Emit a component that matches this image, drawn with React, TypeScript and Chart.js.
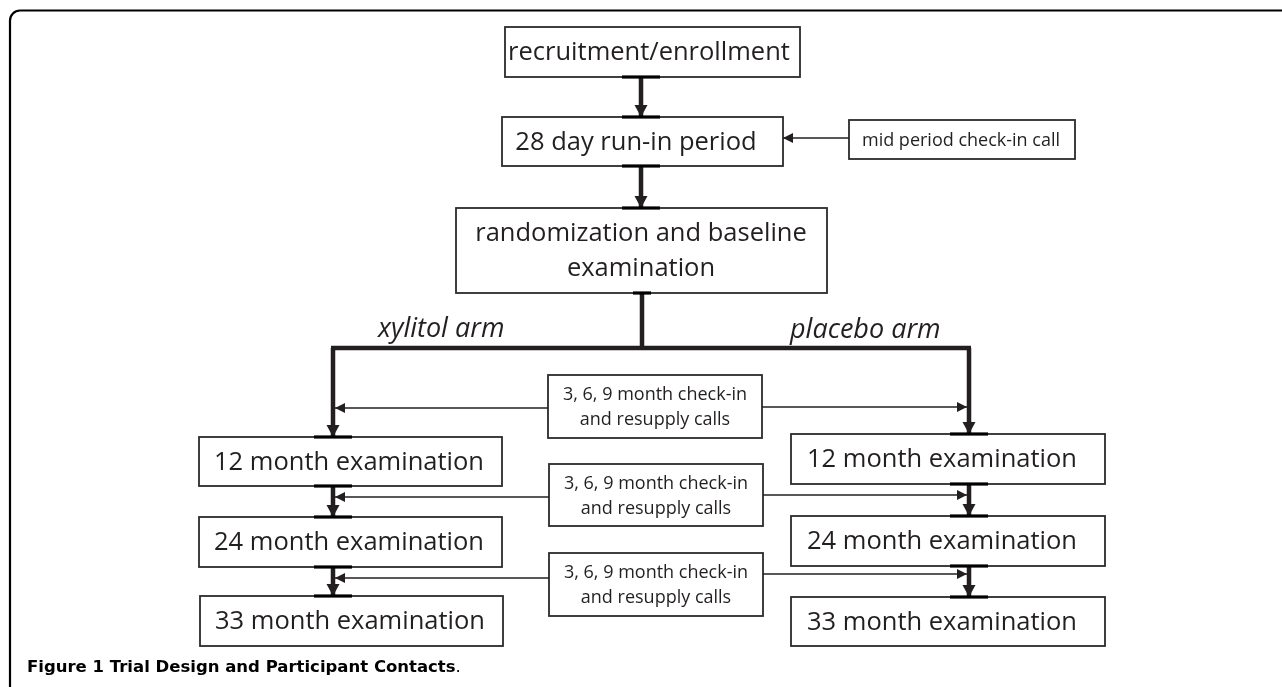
import React, { useEffect, useRef } from "react";
import { Chart, registerables } from "chart.js";

Chart.register(...registerables);

const W = 1282;
const H = 687;

// ---- Flowchart nodes (diagram coordinates on the chart's x/y scales) ----
const boxTexts: string[][] = [
  ["recruitment/enrollment"],
  ["28 day run-in period"],
  ["mid period check-in call"],
  ["randomization and baseline", "examination"],
  ["3, 6, 9 month check-in", "and resupply calls"],
  ["3, 6, 9 month check-in", "and resupply calls"],
  ["3, 6, 9 month check-in", "and resupply calls"],
  ["12 month examination"],
  ["24 month examination"],
  ["33 month examination"],
  ["12 month examination"],
  ["24 month examination"],
  ["33 month examination"],
];
const boxKind: string[] = ["main", "main", "note", "main", "note", "note", "note", "main", "main", "main", "main", "main", "main"];
const boxLeft: number[] = [505, 502, 849, 456, 548, 549, 549, 199, 199, 200, 791, 791, 791];
const boxTop: number[] = [27, 117, 120, 208, 375, 464, 553, 437, 517, 596, 434, 516, 597];
const boxRight: number[] = [800, 783, 1075, 827, 762, 763, 763, 502, 502, 503, 1105, 1105, 1105];
const boxBottom: number[] = [77, 166, 159, 293, 438, 526, 616, 486, 567, 646, 484, 566, 646];
const boxTextX: number[] = [649, 636, 961, 641, 655, 656, 656, 349, 349, 350, 942, 942, 942];

// ---- Connectors: [x1, y1, x2, y2, arrowhead at end (1) or not (0)] ----
const thickLinks: number[][] = [
  [641, 77, 641, 117, 1],
  [641, 166, 641, 208, 1],
  [642, 293, 642, 348, 0],
  [331, 348, 971, 348, 0],
  [333, 348, 333, 437, 1],
  [969, 348, 969, 434, 1],
  [333, 486, 333, 517, 1],
  [969, 484, 969, 516, 1],
  [333, 567, 333, 596, 1],
  [969, 566, 969, 597, 1],
];
const thinLinks: number[][] = [
  [849, 138, 783, 138, 1],
  [548, 408, 335, 408, 1],
  [762, 407, 967, 407, 1],
  [549, 497, 335, 497, 1],
  [763, 495, 967, 495, 1],
  [549, 578, 335, 578, 1],
  [763, 574, 967, 574, 1],
];
// Junction bars on box edges: [centerX, y, width]
const junctionBars: number[][] = [
  [641, 77, 38], [641, 117, 38], [641, 166, 38], [641, 208, 38], [642, 293, 18],
  [333, 437, 38], [333, 486, 38], [333, 517, 38], [333, 567, 38], [333, 596, 38],
  [969, 434, 38], [969, 484, 38], [969, 516, 38], [969, 566, 38], [969, 597, 38],
];
const armLabels: string[] = ["xylitol arm", "placebo arm"];
const armLabelX: number[] = [378, 790];
const armLabelY: number[] = [337, 338];

const captionBold = "Figure 1 Trial Design and Participant Contacts";
const captionTail = ".";

const INK = "#231f20";

const flowPlugin = {
  id: "flow",
  beforeDatasetsDraw(chart: any) {
    const { ctx, scales } = chart;
    const px = (v: number) => scales.x.getPixelForValue(v);
    const py = (v: number) => scales.y.getPixelForValue(v);
    ctx.save();
    // frame
    ctx.strokeStyle = "#000";
    ctx.lineWidth = 2.2;
    ctx.beginPath();
    ctx.moveTo(px(10), py(H + 2));
    ctx.lineTo(px(10), py(20));
    ctx.arcTo(px(10), py(10.5), px(20), py(10.5), 10);
    ctx.lineTo(px(W + 2), py(10.5));
    ctx.stroke();

    // boxes
    ctx.strokeStyle = "#2b2b2b";
    ctx.lineWidth = 1.8;
    for (let i = 0; i < boxTexts.length; i++) {
      const x0 = px(boxLeft[i]);
      const y0 = py(boxTop[i]);
      const x1 = px(boxRight[i]);
      const y1 = py(boxBottom[i]);
      ctx.fillStyle = "#fff";
      ctx.fillRect(x0, y0, x1 - x0, y1 - y0);
      ctx.strokeRect(x0, y0, x1 - x0, y1 - y0);
      const lines = boxTexts[i];
      const isMain = boxKind[i] === "main";
      const fs = isMain ? 25.5 : 18;
      const gap = isMain ? 35 : 25;
      ctx.font = `${fs}px "Open Sans", Lato, sans-serif`;
      ctx.fillStyle = INK;
      ctx.textAlign = "center";
      ctx.textBaseline = "middle";
      const cy = (y0 + y1) / 2;
      const n = lines.length;
      for (let j = 0; j < n; j++) {
        ctx.fillText(lines[j], px(boxTextX[i]), cy + (j - (n - 1) / 2) * gap + 1);
      }
    }
    ctx.restore();
  },
  afterDatasetsDraw(chart: any) {
    const { ctx, scales } = chart;
    const px = (v: number) => scales.x.getPixelForValue(v);
    const py = (v: number) => scales.y.getPixelForValue(v);
    ctx.save();
    const head = (l: number[], len: number, half: number) => {
      const x1 = px(l[0]), y1 = py(l[1]), x2 = px(l[2]), y2 = py(l[3]);
      const a = Math.atan2(y2 - y1, x2 - x1);
      ctx.beginPath();
      ctx.moveTo(x2, y2);
      ctx.lineTo(x2 - len * Math.cos(a) + half * Math.sin(a), y2 - len * Math.sin(a) - half * Math.cos(a));
      ctx.lineTo(x2 - len * Math.cos(a) - half * Math.sin(a), y2 - len * Math.sin(a) + half * Math.cos(a));
      ctx.closePath();
      ctx.fill();
    };
    ctx.fillStyle = INK;
    thickLinks.forEach((l) => { if (l[4]) head(l, 12, 6.5); });
    thinLinks.forEach((l) => { if (l[4]) head(l, 10, 5); });
    // junction bars
    ctx.fillStyle = "#000";
    junctionBars.forEach((b) => {
      ctx.fillRect(px(b[0] - b[2] / 2), py(b[1]) - 1.6, px(b[0] + b[2] / 2) - px(b[0] - b[2] / 2), 3.2);
    });
    // arm labels
    ctx.fillStyle = INK;
    ctx.font = `italic 27px "Open Sans", Lato, sans-serif`;
    ctx.textAlign = "left";
    ctx.textBaseline = "alphabetic";
    armLabels.forEach((t, i) => ctx.fillText(t, px(armLabelX[i]), py(armLabelY[i])));
    // caption
    ctx.fillStyle = "#000";
    ctx.textBaseline = "middle";
    ctx.font = `bold 16.5px "DejaVu Sans", "Open Sans", sans-serif`;
    ctx.fillText(captionBold, px(27), py(668));
    const w = ctx.measureText(captionBold).width;
    ctx.font = `16.5px "DejaVu Sans", "Open Sans", sans-serif`;
    ctx.fillText(captionTail, px(27) + w, py(668));
    ctx.restore();
  },
};

export default function App() {
  const ref = useRef<HTMLCanvasElement>(null);
  useEffect(() => {
    document.body.style.margin = "0";
    const canvas = ref.current!;
    const toData = (l: number[]) => [{ x: l[0], y: l[1] }, { x: l[2], y: l[3] }];
    const datasets: any[] = [
      ...thickLinks.map((l) => ({
        data: toData(l), showLine: true, borderColor: INK, borderWidth: 4.5, pointRadius: 0, borderCapStyle: "butt",
      })),
      ...thinLinks.map((l) => ({
        data: toData(l), showLine: true, borderColor: INK, borderWidth: 1.6, pointRadius: 0, borderCapStyle: "butt",
      })),
    ];
    const chart = new Chart(canvas, {
      type: "scatter",
      data: { datasets },
      options: {
        animation: false,
        responsive: false,
        maintainAspectRatio: false,
        devicePixelRatio: 1,
        layout: { padding: 0 },
        events: [],
        scales: {
          x: { type: "linear", min: 0, max: W, display: false },
          y: { type: "linear", min: 0, max: H, reverse: true, display: false },
        },
        plugins: { legend: { display: false }, tooltip: { enabled: false } },
      },
      plugins: [flowPlugin],
    } as any);
    return () => chart.destroy();
  }, []);
  return (
    <div style={{ position: "fixed", left: 0, top: 0, width: W, height: H, background: "#fff" }}>
      <canvas ref={ref} width={W} height={H} style={{ width: W, height: H, display: "block" }} />
    </div>
  );
}
